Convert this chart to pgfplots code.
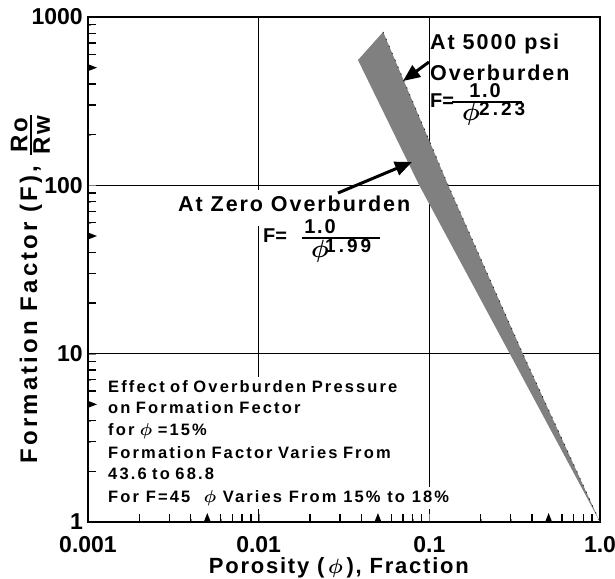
\documentclass[border=0pt]{standalone}
\usepackage{amsmath}
\usepackage{fontspec}
\setmainfont{Liberation Sans}
\newfontfamily\lsA[LetterSpace=9]{Liberation Sans}
\newfontfamily\lsB[LetterSpace=13]{Liberation Sans}
\newfontfamily\lsC[LetterSpace=8]{Liberation Sans}
\newfontfamily\lsD[LetterSpace=13]{Liberation Sans}
\newfontfamily\lsE[LetterSpace=16]{Liberation Sans}
\usepackage{pgfplots}
\pgfplotsset{compat=1.18}
\usetikzlibrary{arrows.meta}
\newcommand{\fs}[2]{\fontsize{#1}{#2}\selectfont}
\newcommand{\xt}[2]{\fill (axis cs:#1,1) rectangle (axis cs:#2,1.1156);}
\newcommand{\yt}[2]{\fill (axis cs:0.001,#1) rectangle (axis cs:0.001114,#2);}
\definecolor{bandgray}{RGB}{128,128,128}
\begin{document}
\begin{tikzpicture}
\useasboundingbox (-88pt,-56pt) rectangle (527pt,522pt);
\begin{axis}[
  at={(0,0)}, anchor=south west,
  scale only axis, width=512pt, height=505pt,
  xmode=log, ymode=log,
  xmin=0.001, xmax=1, ymin=1, ymax=1000,
  xtick={0.001,0.01,0.1,1}, xticklabels={0.001,0.01,0.1,1.0},
  ytick={1,10,100,1000}, yticklabels={1,10,100,1000},
  tick align=inside, tick pos=left,
  major tick length=8pt,
  grid=major, major grid style={line width=1.1pt, black},
  axis line style={line width=1.8pt, black},
  tick label style={font=\fs{23}{23}\bfseries, inner sep=0pt},
  xticklabel style={anchor=north, yshift=-14pt},
  yticklabel style={anchor=east, xshift=-5pt},
  xlabel={\lsC\bfseries Porosity (\,$\boldsymbol{\phi}$\,), Fraction},
  xlabel style={at={(axis description cs:0.49,0)}, anchor=north, yshift=-35pt, inner sep=0pt, font=\fs{22}{22}},
  ylabel={\lsD\bfseries Formation Factor (F), $\genfrac{}{}{1.5pt}{}{\hbox{Ro}}{\hbox{Rw}}$},
  ylabel style={at={(axis description cs:0,0.462)}, anchor=south, yshift=38pt, inner sep=0pt, font=\fs{24}{24}},
]
% band between the two laws
\addplot[fill=bandgray, draw=none] coordinates {
  (1,1) (0.296,10) (0.0873,100) (0.0382,555) (0.0536,815) (0.129,100) (0.353,10)
} -- cycle;
\addplot[black!85, line width=0.8pt, dash pattern=on 1.5pt off 6pt] coordinates {
  (0.0536,815) (0.129,100) (0.353,10) (1,1)
};

% minor log ticks (inside, bottom)
\xt{0.0019812}{0.0020190}\xt{0.0029718}{0.0030285}\xt{0.0039624}{0.0040380}
\xt{0.0059436}{0.0060569}\xt{0.0069342}{0.0070664}\xt{0.0079248}{0.0080759}\xt{0.0089154}{0.0090854}
\xt{0.019812}{0.020190}\xt{0.029718}{0.030285}\xt{0.039624}{0.040380}
\xt{0.059436}{0.060569}\xt{0.069342}{0.070664}\xt{0.079248}{0.080759}\xt{0.089154}{0.090854}
\xt{0.19812}{0.20190}\xt{0.29718}{0.30285}\xt{0.39624}{0.40380}
\xt{0.59436}{0.60569}\xt{0.69342}{0.70664}\xt{0.79248}{0.80759}\xt{0.89154}{0.90854}
\fill (axis cs:0.004770,1) -- (axis cs:0.005242,1) -- (axis cs:0.005,1.131) -- cycle;
\fill (axis cs:0.04770,1) -- (axis cs:0.05242,1) -- (axis cs:0.05,1.131) -- cycle;
\fill (axis cs:0.4770,1) -- (axis cs:0.5242,1) -- (axis cs:0.5,1.131) -- cycle;
% minor log ticks (inside, left)
\yt{1.98094}{2.01924}\yt{2.97141}{3.02886}\yt{3.96188}{4.03848}
\yt{5.94283}{6.05772}\yt{6.93330}{7.06734}\yt{7.92377}{8.07696}\yt{8.91424}{9.08658}
\yt{19.8094}{20.1924}\yt{29.7141}{30.2886}\yt{39.6188}{40.3848}
\yt{59.4283}{60.5772}\yt{69.3330}{70.6734}\yt{79.2377}{80.7696}\yt{89.1424}{90.8658}
\yt{198.094}{201.924}\yt{297.141}{302.886}\yt{396.188}{403.848}
\yt{594.283}{605.772}\yt{693.330}{706.734}\yt{792.377}{807.696}\yt{891.424}{908.658}
\fill (axis cs:0.001,4.766) -- (axis cs:0.001,5.245) -- (axis cs:0.0011291,5) -- cycle;
\fill (axis cs:0.001,47.66) -- (axis cs:0.001,52.45) -- (axis cs:0.0011291,50) -- cycle;
\fill (axis cs:0.001,476.6) -- (axis cs:0.001,524.5) -- (axis cs:0.0011291,500) -- cycle;

% upper annotation
\node[anchor=base west, inner sep=0pt, font=\fs{21.5}{21.5}\lsA\bfseries] at (rel axis cs:0.6680,0.9347) {At 5000 psi};
\node[anchor=base west, inner sep=0pt, font=\fs{21.5}{21.5}\lsA\bfseries] at (rel axis cs:0.6680,0.8752) {Overburden};
\node[anchor=base west, inner sep=0pt, font=\fs{20}{20}\bfseries] at (rel axis cs:0.6680,0.8198) {F=};
\node[anchor=base, inner sep=0pt, font=\fs{20}{20}\lsA\bfseries] at (rel axis cs:0.7754,0.8396) {1.0};
\draw[line width=1.8pt] (rel axis cs:0.7109,0.8317) -- (rel axis cs:0.8477,0.8317);
\node[anchor=base west, inner sep=0pt, font=\fs{23}{23}] at (rel axis cs:0.7305,0.7960) {$\boldsymbol{\phi}$};
\node[anchor=base west, inner sep=0pt, font=\fs{19}{19}\lsE\bfseries] at (rel axis cs:0.7637,0.8040) {2.23};
\draw[line width=3pt, -{Triangle[length=17pt,width=14pt]}] (rel axis cs:0.6660,0.9109) -- (rel axis cs:0.6152,0.8732);

% lower annotation
\node[anchor=base west, fill=white, inner xsep=1pt, inner ysep=6pt, text depth=8pt, font=\fs{21.5}{21.5}\lsA\bfseries] at (rel axis cs:0.1738,0.6139) {At Zero Overburden};
\node[anchor=base west, inner sep=0pt, font=\fs{20}{20}\bfseries] at (rel axis cs:0.3418,0.5525) {F=};
\node[anchor=base, inner sep=0pt, font=\fs{20}{20}\lsA\bfseries] at (rel axis cs:0.4531,0.5703) {1.0};
\draw[line width=1.8pt] (rel axis cs:0.4180,0.5624) -- (rel axis cs:0.5703,0.5624);
\node[anchor=base west, inner sep=0pt, font=\fs{23}{23}] at (rel axis cs:0.4355,0.5228) {$\boldsymbol{\phi}$};
\node[anchor=base west, inner sep=0pt, font=\fs{19}{19}\lsE\bfseries] at (rel axis cs:0.4629,0.5327) {1.99};
\draw[line width=3pt, -{Triangle[length=17pt,width=14pt]}] (rel axis cs:0.4883,0.6515) -- (rel axis cs:0.6328,0.7129);

% text block
\begin{scope}[every node/.style={anchor=base west, fill=white, inner xsep=3pt, inner ysep=0pt, text height=15pt, text depth=7pt, font=\fs{16.5}{22}\lsB\bfseries}]
\node[text width=292pt, align=left] at (rel axis cs:0.0332,0.2574) {Effect of Overburden Pressure};
\node[text width=292pt, align=left] at (rel axis cs:0.0332,0.2139) {on Formation Fector};
\node[text width=292pt, align=left] at (rel axis cs:0.0332,0.1703) {for $\boldsymbol{\phi}$ =15\%};
\node[text width=292pt, align=left] at (rel axis cs:0.0332,0.1267) {Formation Factor Varies From};
\node[text width=292pt, align=left] at (rel axis cs:0.0332,0.0832) {43.6 to 68.8};
\node at (rel axis cs:0.0332,0.0396) {For F=45 \ $\boldsymbol{\phi}$ Varies From 15\% to 18\%};
\end{scope}
\end{axis}
\end{tikzpicture}
\end{document}
